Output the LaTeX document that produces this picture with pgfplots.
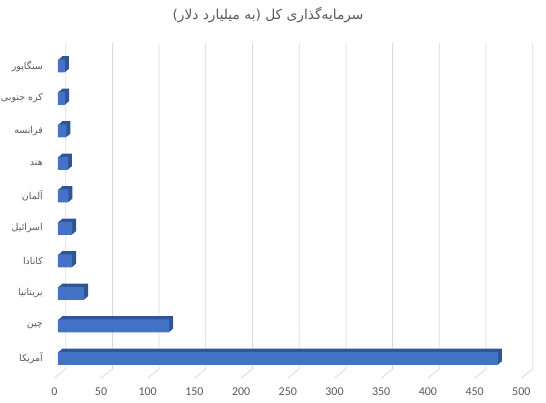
\documentclass[border=0pt]{standalone}
\usepackage{fontspec}
\usepackage{pgfplots}
\pgfplotsset{compat=1.18}
\setmainfont{Carlito}
\newfontfamily\arabicfont[Script=Arabic]{DejaVu Sans}
\TeXXeTstate=1
\newcommand{\fa}[1]{{\arabicfont\beginR #1\endR}}
\definecolor{barblue}{HTML}{4472C4}
\definecolor{bardark}{HTML}{2F5597}
\definecolor{gridgray}{HTML}{D9D9D9}
\definecolor{txtgray}{HTML}{595959}
\begin{document}
\begin{tikzpicture}
\useasboundingbox (0,0) rectangle (546bp,403bp);
\begin{axis}[
  at={(58bp,25bp)}, anchor=south west, scale only axis,
  width=467bp, height=334.75bp,
  xmin=0, xmax=500, ymin=-0.6, ymax=9.7,
  xbar, bar width=13bp,
  axis line style={draw=none}, major tick length=0pt,
  xtick={0,50,...,500}, ytick={0,...,9},
  yticklabels={\fa{آمریکا},\fa{چین},\fa{بریتانیا},\fa{کانادا},\fa{اسرائیل},\fa{آلمان},\fa{هند},\fa{فرانسه},{\arabicfont\beginR کره جنوبی\endR},\fa{سنگاپور}},
  xticklabel style={anchor=center, yshift=-13.7bp, xshift=-3.7bp, font=\fontsize{12}{14}\selectfont, text=txtgray},
  yticklabel style={anchor=east, inner sep=0pt, xshift=-15bp, font=\fontsize{9.5}{11}\selectfont, text=txtgray},
  /pgf/number format/assume math mode=true,
  clip=false,
]
\pgfplotsinvokeforeach{0,50,...,500}{
  \draw[gridgray, line width=0.75bp] ([xshift=-3.7bp]axis cs:#1,-0.6) -- ([xshift=7.7bp,yshift=9bp]axis cs:#1,-0.6) -- ([xshift=7.7bp]axis cs:#1,9.7);
}
\addplot[fill=barblue, draw=none,
  preaction={fill=bardark, transform canvas={shift={(1bp,0.83bp)}}},
  preaction={fill=bardark, transform canvas={shift={(2bp,1.65bp)}}},
  preaction={fill=bardark, transform canvas={shift={(3bp,2.5bp)}}},
  preaction={fill=bardark, transform canvas={shift={(4bp,3.3bp)}}},
] coordinates {(471,0) (119,1) (28,2) (15.2,3) (15,4) (11,5) (10.7,6) (8.9,7) (7.6,8) (7.4,9)};
\end{axis}
\node[font=\fontsize{13.8}{16}\selectfont, text=txtgray] at (268bp,388bp) {\fa{سرمایه‌گذاری کل (به میلیارد دلار)}};
\end{tikzpicture}
\end{document}
